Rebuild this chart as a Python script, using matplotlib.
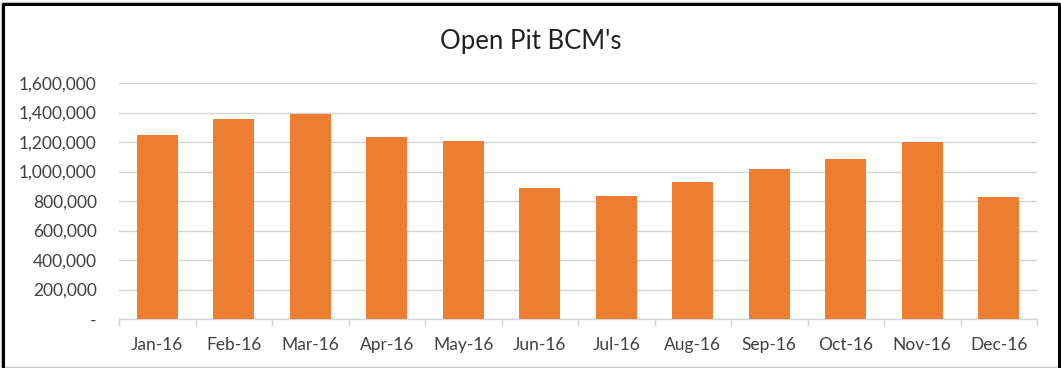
import matplotlib
matplotlib.use('Agg')
import matplotlib.pyplot as plt
from matplotlib.patches import Rectangle
from matplotlib.ticker import FuncFormatter, FixedLocator

plt.rcParams['font.family'] = ['Lato', 'DejaVu Sans']

months = ["Jan-16", "Feb-16", "Mar-16", "Apr-16", "May-16", "Jun-16",
          "Jul-16", "Aug-16", "Sep-16", "Oct-16", "Nov-16", "Dec-16"]
bcm = [1250000, 1356000, 1392000, 1236000, 1209000, 888000,
       832000, 929000, 1019000, 1083000, 1202000, 825000]
y_ticks = [0, 200000, 400000, 600000, 800000, 1000000, 1200000, 1400000, 1600000]

BAR_COLOR = "#ED7D31"
GRID_COLOR = "#D4D4D4"
TEXT_COLOR = "#404040"


def accounting(value, _pos):
    return "-" if value == 0 else f"{value:,.0f}"


fig = plt.figure(figsize=(10.61, 3.68), dpi=100)
ax = fig.add_axes([119 / 1061, 1 - 319 / 368, (1037 - 119) / 1061, (319 - 83) / 368])

x = range(len(months))
ax.bar(x, bcm, width=0.53, color=BAR_COLOR, zorder=3)

ax.set_xlim(-0.5, len(months) - 0.5)
ax.set_ylim(0, 1600000)
ax.set_yticks(y_ticks)
ax.yaxis.set_major_formatter(FuncFormatter(accounting))
ax.grid(axis="y", color=GRID_COLOR, linewidth=1.0, zorder=0)

ax.set_xticks(list(x))
ax.set_xticklabels(months)
ax.xaxis.set_minor_locator(FixedLocator([i - 0.5 for i in range(len(months) + 1)]))
ax.tick_params(axis="x", which="major", length=0, pad=13, labelsize=12.5,
               labelcolor=TEXT_COLOR)
ax.tick_params(axis="x", which="minor", length=5, color=GRID_COLOR, width=1)
ax.tick_params(axis="y", length=0, pad=16, labelsize=12.5, labelcolor=TEXT_COLOR)

for side in ("top", "right", "left"):
    ax.spines[side].set_visible(False)
ax.spines["bottom"].set_color(GRID_COLOR)
ax.spines["bottom"].set_linewidth(1.0)

fig.text(531 / 1061, 1 - 42 / 368, "Open Pit BCM's", ha="center", va="center",
         fontsize=18.5, color="#202020")

# frame round the whole chart: dark on three sides, faint along the bottom
fig.add_artist(Rectangle((0.5 / 1061, 1 / 368), 1058.5 / 1061, 365 / 368,
                         transform=fig.transFigure, fill=False,
                         edgecolor="#C8C8C8", linewidth=1))
fig.add_artist(plt.Line2D([3 / 1061, 3 / 1061, 1059 / 1061, 1059 / 1061],
                          [2 / 368, 1 - 4 / 368, 1 - 4 / 368, 2 / 368],
                          transform=fig.transFigure, color="black", linewidth=2.2))

fig.savefig("out.png", dpi=100)
